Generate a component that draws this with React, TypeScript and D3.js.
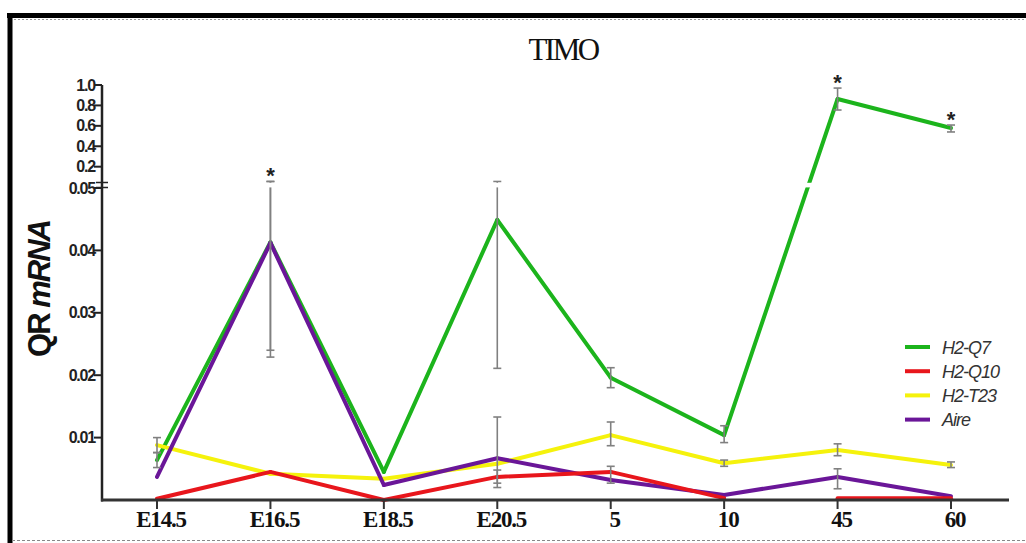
import React from "react";
import * as d3 from "d3";

const categories = ["E14.5", "E16.5", "E18.5", "E20.5", "5", "10", "45", "60"];
const seriesNames = ["H2-Q7", "H2-Q10", "H2-T23", "Aire"];
const seriesColors = ["#1cb41c", "#e8161c", "#f5f20c", "#6a1698"];

const q7Values = [0.0064, 0.0413, 0.0045, 0.0449, 0.0196, 0.0104, 0.863, 0.579];
const q7Low = [0.0052, 0.0229, null, 0.0211, 0.018, 0.0092, 0.755, 0.54];
const q7High = [0.0076, 0.055, null, 0.055, 0.0212, 0.0119, 0.97, 0.608];

const q10Values = [0.0002, 0.0045, 0.0, 0.0037, 0.0045, 0.0003, 0.0003, 0.0003];
const q10Low = [null, null, null, 0.0027, 0.0027, null, null, null];
const q10High = [null, null, null, 0.0048, 0.0054, null, null, null];
const q10Gaps = [5];

const t23Values = [0.0088, 0.0042, 0.0034, 0.0058, 0.0104, 0.0059, 0.008, 0.0056];
const t23Low = [0.0076, null, null, null, 0.0087, 0.0054, 0.0071, 0.0052];
const t23High = [0.01, null, null, null, 0.0125, 0.0064, 0.009, 0.0061];

const aireValues = [0.0037, 0.0412, 0.0024, 0.0067, 0.0032, 0.0008, 0.0037, 0.0006];
const aireLow = [null, 0.024, null, 0.002, null, null, 0.0018, null];
const aireHigh = [null, 0.055, null, 0.0133, null, null, 0.005, null];

const lowerTicks = [0.01, 0.02, 0.03, 0.04, 0.05];
const upperTicks = [0.2, 0.4, 0.6, 0.8, 1.0];
const significant = [1, 6, 7];

const series = [
  { name: seriesNames[0], color: seriesColors[0], values: q7Values, low: q7Low, high: q7High, gaps: [] as number[] },
  { name: seriesNames[1], color: seriesColors[1], values: q10Values, low: q10Low, high: q10High, gaps: q10Gaps },
  { name: seriesNames[2], color: seriesColors[2], values: t23Values, low: t23Low, high: t23High, gaps: [] as number[] },
  { name: seriesNames[3], color: seriesColors[3], values: aireValues, low: aireLow, high: aireHigh, gaps: [] as number[] },
];
const drawOrder = [0, 2, 3, 1];

export default function App() {
  const W = 1026, H = 543;
  const axisX = 102, axisY = 500, axisRight = 1009;
  const x = d3.scalePoint<string>().domain(categories).range([157, 951]);
  const yLow = d3.scaleLinear().domain([0, 0.05]).range([500, 188]);
  const yHigh = d3.scaleLinear().domain([0.05, 1.0]).range([182, 85]);
  const y = (v: number) => (v <= 0.05 ? yLow(v) : yHigh(v));
  const line = d3.line<[number, number]>().x((d) => d[0]).y((d) => d[1]);

  const tickFont = { fontFamily: "Liberation Sans, Arial, sans-serif", fontWeight: 700, fontSize: 16, letterSpacing: -1.2 } as const;

  return (
    <svg width={W} height={H} style={{ position: "absolute", left: 0, top: 0 }}>
      <rect x={0} y={0} width={W} height={H} fill="#fff" />
      {/* frame */}
      <line x1={7} x2={W} y1={15.5} y2={15.5} stroke="#000" strokeWidth={5} />
      <line x1={10} x2={10} y1={13} y2={H} stroke="#000" strokeWidth={5} />
      <line x1={14} x2={W} y1={19.5} y2={19.5} stroke="#999" strokeWidth={1} strokeDasharray="2,2" />
      <line x1={12} x2={W} y1={540.5} y2={540.5} stroke="#888" strokeWidth={1} strokeDasharray="3,2" />

      {/* title */}
      <text x={563} y={60} textAnchor="middle" fontFamily="Liberation Serif, Times New Roman, serif" fontSize={31} letterSpacing={-2.5} fill="#111">TIMO</text>

      {/* y label */}
      <text transform={`translate(50,289) rotate(-90)`} textAnchor="middle" fontFamily="Liberation Sans, Arial, sans-serif" fontSize={31} fontWeight={600} letterSpacing={-2} fill="#111">
        QR <tspan fontStyle="italic">mRNA</tspan>
      </text>

      {/* series lines */}
      {drawOrder.map((si) => {
        const s = series[si];
        const segs: [number, number][][] = [];
        for (let i = 0; i < s.values.length - 1; i++) {
          if (s.gaps.includes(i)) continue;
          segs.push([
            [x(categories[i])!, y(s.values[i])],
            [x(categories[i + 1])!, y(s.values[i + 1])],
          ]);
        }
        return (
          <g key={s.name}>
            {segs.map((seg, k) => (
              <path key={k} d={line(seg)!} fill="none" stroke={s.color} strokeWidth={4} strokeLinejoin="miter" strokeLinecap="round" />
            ))}
          </g>
        );
      })}

      {/* error bars */}
      {series.map((s) =>
        categories.map((c, i) => {
          const lo = s.low[i], hi = s.high[i];
          if (lo == null || hi == null) return null;
          const cx = x(c)!;
          return (
            <g key={s.name + c} stroke="#808080" strokeWidth={1.6}>
              <line x1={cx} x2={cx} y1={y(lo)} y2={y(hi)} />
              <line x1={cx - 4} x2={cx + 4} y1={y(lo)} y2={y(lo)} />
              <line x1={cx - 4} x2={cx + 4} y1={y(hi)} y2={y(hi)} />
            </g>
          );
        })
      )}

      {/* axis break band */}
      <rect x={104} y={182.8} width={axisRight - 104} height={4.6} fill="#fff" />

      {/* asterisks */}
      {significant.map((i) => (
        <text key={i} x={x(categories[i])!} y={y(q7High[i] as number) + 2} textAnchor="middle" fontFamily="Liberation Sans, Arial, sans-serif" fontWeight={700} fontSize={22} fill="#222">*</text>
      ))}

      {/* y axis */}
      <line x1={axisX} x2={axisX} y1={85} y2={axisY + 1.5} stroke="#222" strokeWidth={2.5} />
      {lowerTicks.map((t) => (
        <g key={"l" + t}>
          <line x1={axisX - 8} x2={axisX} y1={yLow(t)} y2={yLow(t)} stroke="#222" strokeWidth={2} />
          <text x={axisX - 7} y={yLow(t) + 5.5} textAnchor="end" {...tickFont} fill="#222">{t.toFixed(2)}</text>
        </g>
      ))}
      {upperTicks.map((t) => (
        <g key={"u" + t}>
          <line x1={axisX - 8} x2={axisX} y1={yHigh(t)} y2={yHigh(t)} stroke="#222" strokeWidth={2} />
          <text x={axisX - 7} y={yHigh(t) + 5.5} textAnchor="end" {...tickFont} fill="#222">{t.toFixed(1)}</text>
        </g>
      ))}
      {/* break marks */}
      <line x1={axisX - 6} x2={axisX + 6} y1={182.5} y2={182.5} stroke="#222" strokeWidth={1.5} />
      <line x1={axisX - 6} x2={axisX + 6} y1={187.5} y2={187.5} stroke="#222" strokeWidth={1.5} />

      {/* x axis */}
      <line x1={axisX - 1} x2={axisRight} y1={axisY} y2={axisY} stroke="#333" strokeWidth={3} />
      {categories.map((c) => (
        <g key={c}>
          <line x1={x(c)!} x2={x(c)!} y1={axisY} y2={axisY + 9} stroke="#333" strokeWidth={2} />
          <text x={x(c)! + 4} y={527} textAnchor="middle" fontFamily="Liberation Serif, Times New Roman, serif" fontWeight={700} fontSize={23} letterSpacing={-1.2} fill="#111">{c}</text>
        </g>
      ))}

      {/* legend */}
      {series.map((s, i) => {
        const ly = 347 + i * 24.2;
        return (
          <g key={"lg" + s.name}>
            <line x1={905} x2={930} y1={ly} y2={ly} stroke={s.color} strokeWidth={4} />
            <text x={942} y={ly + 6.5} fontFamily="Liberation Sans, Arial, sans-serif" fontStyle="italic" fontSize={18} letterSpacing={-1} fill="#333">{s.name}</text>
          </g>
        );
      })}
    </svg>
  );
}
